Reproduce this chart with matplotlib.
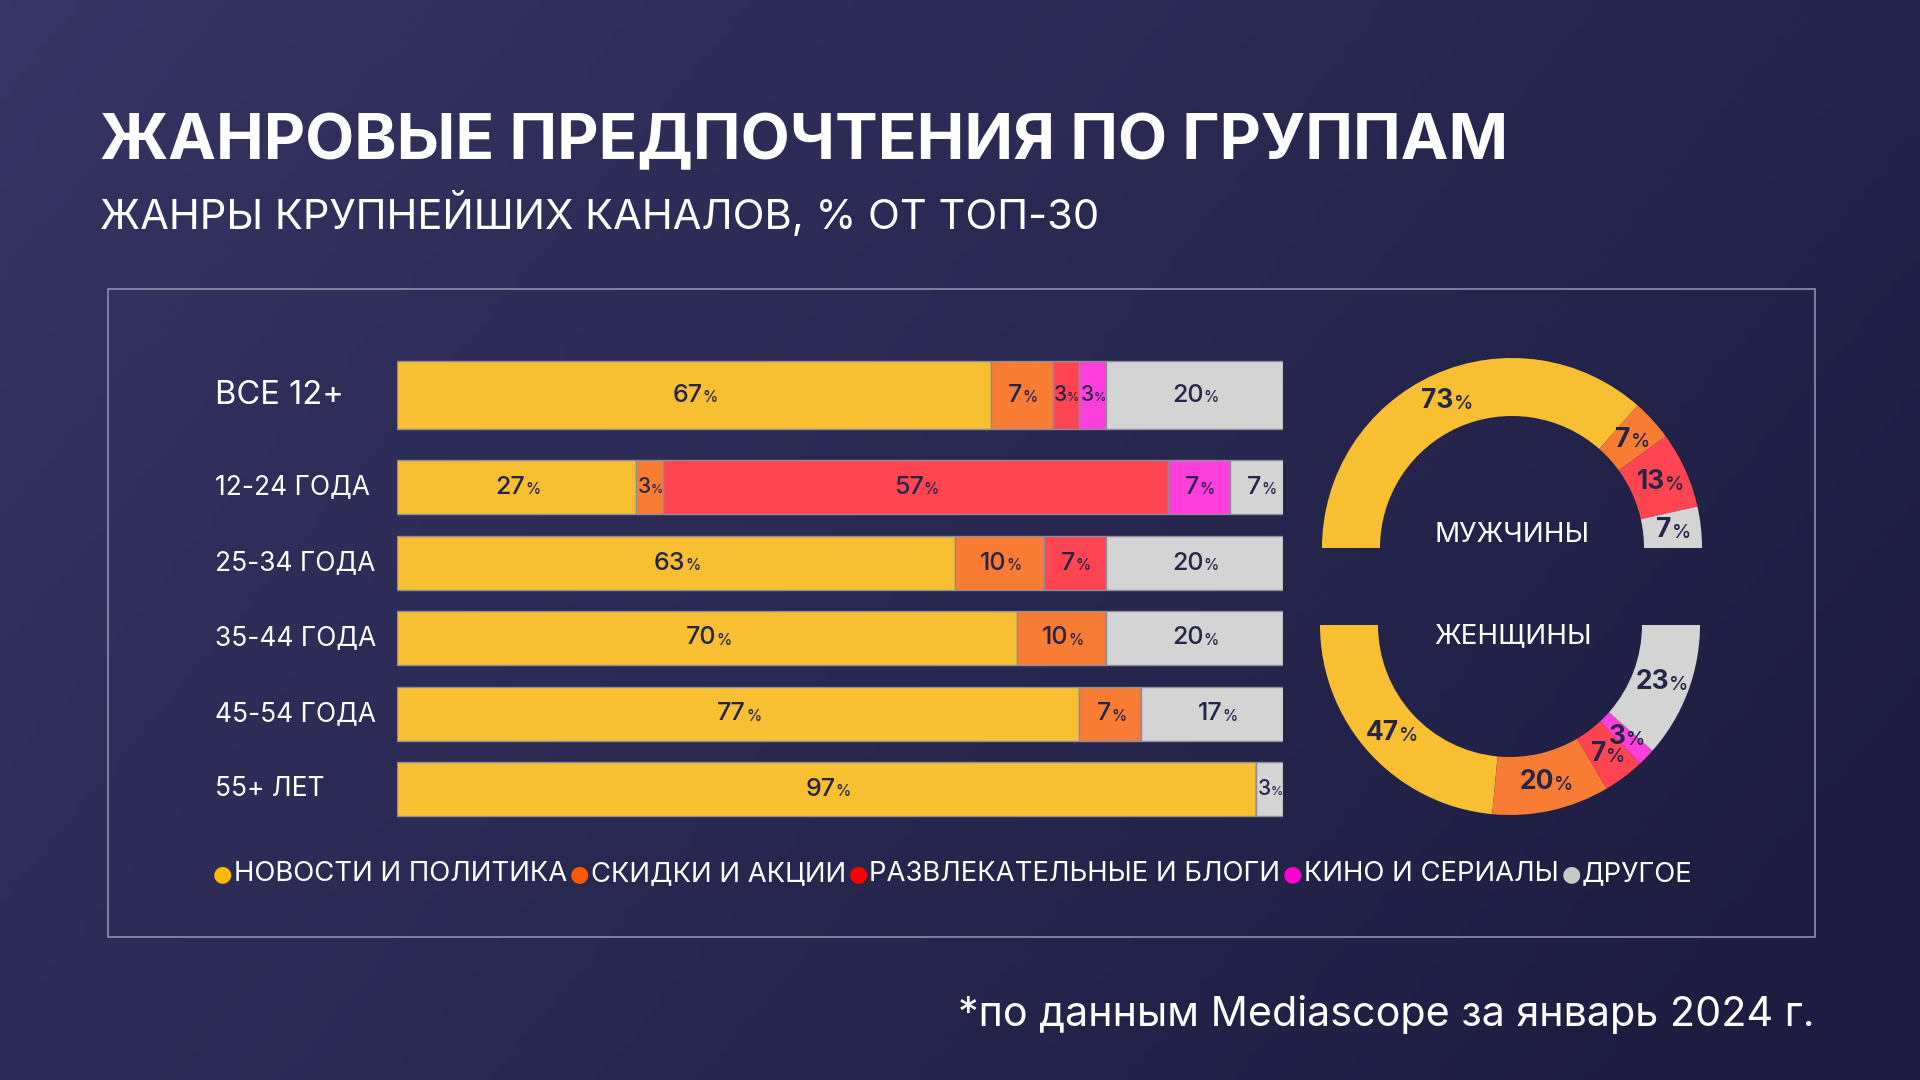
import matplotlib.pyplot as plt
import numpy as np
from matplotlib.patches import Rectangle

plt.rcParams['font.family'] = ['Inter', 'DejaVu Sans']

# data
groups = ['ВСЕ 12+', '12-24 ГОДА', '25-34 ГОДА', '35-44 ГОДА', '45-54 ГОДА', '55+ ЛЕТ']
genres = ['НОВОСТИ И ПОЛИТИКА', 'СКИДКИ И АКЦИИ', 'РАЗВЛЕКАТЕЛЬНЫЕ И БЛОГИ', 'КИНО И СЕРИАЛЫ', 'ДРУГОЕ']
news = [67, 27, 63, 70, 77, 97]
sales = [7, 3, 10, 10, 7, 0]
fun = [3, 57, 7, 0, 0, 0]
movies = [3, 7, 0, 0, 0, 0]
other = [20, 7, 20, 20, 17, 3]

men_genres = [0, 1, 2, 4]
men = [73, 7, 13, 7]
women_genres = [0, 1, 2, 3, 4]
women = [47, 20, 7, 3, 23]

bar_colors = ['#F9BF33', '#F87C34', '#FF4552', '#FF3FDC', '#D4D4D4']
dot_colors = ['#FFB800', '#FF5A00', '#FF0000', '#FF00D2', '#C8C8C8']
DARK = '#25254a'
WHITE = '#ffffff'

W, H = 1920, 1080
fig = plt.figure(figsize=(19.2, 10.8), dpi=100)

# background gradient
bg = fig.add_axes([0, 0, 1, 1], zorder=-2)
gx, gy = np.meshgrid(np.linspace(0, 1, 200), np.linspace(0, 1, 120))
t = np.clip(0.75 * gx + 0.35 * gy, 0, 1)
c0 = np.array([0x36, 0x35, 0x63]) / 255
c1 = np.array([0x1e, 0x1d, 0x41]) / 255
img = c0[None, None, :] * (1 - t[..., None]) + c1[None, None, :] * t[..., None]
bg.imshow(img, aspect='auto', extent=[0, 1, 0, 1], origin='upper')
bg.axis('off')

# overlay in pixel coords (y up)
ov = fig.add_axes([0, 0, 1, 1], zorder=0)
ov.set_facecolor('none')


def pct_label(ax, x, y, v, size, psize, weight='medium', **kw):
    t = ax.annotate(f'{v}', xy=(x, y), xytext=(-psize * 0.42, 0), textcoords='offset points',
                    ha='center', va='center', fontsize=size, color=DARK, fontweight=weight, **kw)
    ax.annotate('%', xy=(1, 0.2), xycoords=t, ha='left', va='baseline',
                fontsize=psize, color=DARK, fontweight='medium')


# donuts
def half_donut(values, idx, center, counterclock):
    cols = [bar_colors[i] for i in idx]
    wedges, _ = ov.pie(values + [sum(values)], colors=cols + ['none'], startangle=180,
                       counterclock=counterclock, radius=190, center=center,
                       wedgeprops=dict(width=58, linewidth=0))
    wedges[-1].set_visible(False)
    for w, v in zip(wedges[:-1], values):
        ang = np.deg2rad((w.theta1 + w.theta2) / 2)
        pct_label(ov, center[0] + 161 * np.cos(ang), center[1] + 161 * np.sin(ang), v, 19, 14, weight='bold')


half_donut(men, men_genres, (1512, H - 548), counterclock=False)
half_donut(women, women_genres, (1510, H - 625), counterclock=True)
ov.set_xlim(0, W)
ov.set_ylim(0, H)
ov.set_aspect('auto')
ov.axis('off')

ov.text(1512, H - 535, 'МУЖЧИНЫ', ha='center', va='center', fontsize=20, color=WHITE)
ov.text(1513, H - 636, 'ЖЕНЩИНЫ', ha='center', va='center', fontsize=20, color=WHITE)

# titles
ov.text(100, H - 159, 'ЖАНРОВЫЕ ПРЕДПОЧТЕНИЯ ПО ГРУППАМ', fontsize=46, fontweight='bold',
        color=WHITE, va='baseline')
ov.text(100, H - 229, 'ЖАНРЫ КРУПНЕЙШИХ КАНАЛОВ, % ОТ ТОП-30', fontsize=30,
        color=WHITE, va='baseline')
ov.text(1815, H - 1026, '*по данным Mediascope за январь 2024 г.', fontsize=29.7,
        color=WHITE, va='baseline', ha='right')

# frame
ov.add_patch(Rectangle((108, H - 937), 1707, 648, fill=False, edgecolor='#8f8eab', lw=1.2))

# row labels
row_y = [395, 487, 563, 638, 714, 789]
row_h = [68, 54, 54, 54, 54, 54]
for g, y in zip(groups, row_y):
    ov.text(215, H - y, g, fontsize=23.5 if g == groups[0] else 19, color=WHITE, va='center')

# legend
prev = None
for name, col in zip(genres, dot_colors):
    if prev is None:
        dot = ov.annotate('●', xy=(213, H - 874), ha='left', va='center', fontsize=16, color=col,
                          family=['DejaVu Sans'])
    else:
        dot = ov.annotate('●', xy=(1, 0.5), xycoords=prev, xytext=(2, 0), textcoords='offset points',
                          ha='left', va='center', fontsize=16, color=col, family=['DejaVu Sans'])
    prev = ov.annotate(name, xy=(1, 0.5), xycoords=dot, xytext=(1, 0), textcoords='offset points',
                       ha='left', va='center', fontsize=19.8, color=WHITE)

# stacked bars
ax = fig.add_axes([397 / W, 0, (1283 - 397) / W, 1], zorder=1)
ax.set_facecolor('none')
ax.set_xlim(0, 100)
ax.set_ylim(H, 0)
ax.axis('off')
series = [news, sales, fun, movies, other]
left = np.zeros(len(groups))
for vals, col in zip(series, bar_colors):
    vals = np.array(vals)
    ax.barh(row_y, vals, left=left, height=row_h, color=col, edgecolor='#8d8d99', linewidth=1)
    for x0, v, y in zip(left, vals, row_y):
        if v > 0:
            if v < 5:
                pct_label(ax, x0 + v / 2, y, v, 15, 9)
            else:
                pct_label(ax, x0 + v / 2, y, v, 18, 11)
    left += vals

fig.savefig('out.png', dpi=100)
